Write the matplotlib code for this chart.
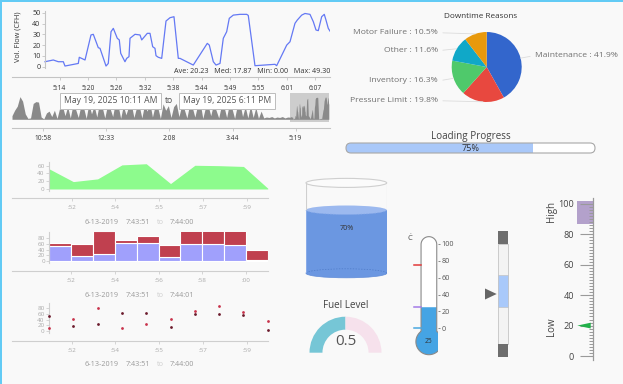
import numpy as np
import matplotlib
matplotlib.use('Agg')
import matplotlib.pyplot as plt
from matplotlib.patches import Rectangle, Ellipse, Polygon, FancyBboxPatch, PathPatch, Arc
from matplotlib.path import Path

plt.rcParams['font.family'] = ['Open Sans', 'DejaVu Sans']

# ---------------- data ----------------
# Detail flow chart: minutes after 5:00 PM, CFH
flow_t = [11.02, 12.71, 13.73, 14.76, 15.10, 17.82, 18.02, 19.19, 20.41, 20.88,
          21.90, 22.25, 23.48, 23.94, 24.50, 24.97, 25.78, 26.19, 26.48, 27.35,
          27.70, 28.17, 28.38, 29.40, 30.42, 30.77, 31.91, 32.46, 33.01, 33.48,
          33.69, 34.16, 34.85, 35.73, 36.55, 37.36, 38.24, 38.59, 41.30, 44.16,
          44.57, 45.39, 45.94, 46.76, 47.43, 48.12, 48.65, 49.47, 50.84, 52.21,
          52.53, 53.90, 57.99, 58.33, 60.38, 61.05, 62.07, 62.54, 63.44, 64.11,
          65.13, 65.81, 66.36, 66.83, 67.52, 68.05, 68.40, 68.87, 69.22]
flow_v = [4.6, 6.2, 4.6, 4.6, 0.6, 3.0, 8.7, 6.2, 29.4, 30.0,
          17.6, 17.0, 0.6, 3.0, 32.4, 35.5, 26.3, 24.8, 12.4, 4.6,
          7.7, 9.3, 26.3, 30.0, 29.4, 24.8, 30.9, 30.9, 18.5, 17.0,
          10.2, 8.7, 7.7, 42.3, 45.4, 46.3, 7.7, 7.7, 1.5, 21.6,
          20.0, 4.6, 1.5, 3.0, 26.3, 32.4, 44.8, 47.8, 48.5, 48.5,
          47.5, 0.9, 2.2, 0.9, 20.0, 23.1, 40.2, 43.2, 47.8, 49.3,
          48.5, 41.7, 34.0, 33.4, 46.3, 48.5, 43.2, 35.5, 33.0]
flow_stat_names = ['Ave', 'Med', 'Min', 'Max']
flow_stat_vals = [20.23, 17.87, 0.00, 49.30]
flow_tick_labels = ['5:14', '5:20', '5:26', '5:32', '5:38', '5:44', '5:49', '5:55', '6:01', '6:07']
flow_tick_first, flow_tick_step = 14.0, 5.8

# Overview (every 4 minutes from 10:11 AM)
overview_v = [8, 20, 29, 50, 40, 12, 2, 3, 35, 39, 38, 5, 1, 14, 18, 6, 20, 2, 25, 30,
              8, 28, 3, 32, 22, 4, 30, 26, 2, 34, 12, 30, 5, 36, 28, 3, 30, 24, 6, 38,
              32, 2, 30, 10, 28, 34, 4, 26, 30, 3, 32, 18, 36, 5, 30, 26, 2, 34, 20, 30,
              4, 28, 35, 6, 30, 22, 3, 32, 27, 5, 30, 36, 2, 26, 30, 8, 33, 20, 3, 30,
              28, 4, 34, 24, 2, 30, 36, 6, 28, 3, 30, 4, 26, 2, 18, 3, 5, 4, 6, 3,
              5, 4, 6, 3, 5]
overview_step = 4
overview_tick_labels = ['10:58', '12:33', '2:08', '3:44', '5:19']
overview_tick_min = [47, 142, 237, 333, 428]
range_from_label = 'May 19, 2025 10:11 AM'
range_to_label = 'May 19, 2025 6:11 PM'
detail_offset_min = 409  # 5:00 PM, in minutes after 10:11 AM

# Downtime pie
pie_labels = ['Maintenance', 'Pressure Limit', 'Inventory', 'Other', 'Motor Failure']
pie_vals = [41.9, 19.8, 16.3, 11.6, 10.5]
pie_colors = ['#3366cc', '#e8483f', '#4fc96b', '#10a8c8', '#e8990c']

progress_val = 75

# Small charts (seconds 7:43:51 .. 7:44:00)
sec = [51, 52, 53, 54, 55, 56, 57, 58, 59, 60]
series_a = [52, 19, 26, 62, 65, 14, 61, 60, 58, 2]
series_b = [12, 42, 80, 12, 23, 42, 71, 89, 66, 35]
area_tick_labels = [':52', ':54', ':55', ':57', ':59']
bar_tick_labels = [':52', ':54', ':56', ':58', ':00']
bar_ticks = [52, 54, 56, 58, 60]

tank_level = 70
fuel_level = 0.5
temp_c = 25
temp_marks = [75, 25, 0]
temp_mark_colors = ['#e23a3a', '#a47be8', '#49a8e0']
range_lo, range_hi, range_ptr = 37, 69, 50
lin_value = 20
lin_high = (87, 102)

# ---------------- figure ----------------
W, H = 623, 384
fig = plt.figure(figsize=(W / 100, H / 100), dpi=100)
fig.patch.set_facecolor('#f9f9f9')


def pax(x0, y0, x1, y1):
    a = fig.add_axes([x0 / W, 1 - y1 / H, (x1 - x0) / W, (y1 - y0) / H])
    a.patch.set_alpha(0)
    return a


def ftext(x, y, s, **kw):
    kw.setdefault('ha', 'center')
    kw.setdefault('va', 'center')
    return fig.text(x / W, 1 - y / H, s, **kw)


# border
fig.add_artist(Rectangle((0, 0), 2 / W, 1, transform=fig.transFigure, color='#62cbf5', lw=0))
fig.add_artist(Rectangle((0, 1 - 2 / H), 1, 2 / H, transform=fig.transFigure, color='#62cbf5', lw=0))

# ---- detail flow line chart ----
ax = pax(12, 11, 330, 68.3)
ax.plot(flow_t, flow_v, color='#6479f4', lw=0.9, solid_joinstyle='round')
ax.set_xlim(4.28, 69.22)
ax.set_ylim(-1.5, 51.6)
for s in ['top', 'right']:
    ax.spines[s].set_visible(False)
ax.spines['left'].set_position(('data', flow_t[0]))
ax.spines['bottom'].set_position(('outward', 6.6))
for s in ['left', 'bottom']:
    ax.spines[s].set_color('#c4c4c4')
    ax.spines[s].set_linewidth(0.8)
ax.set_yticks(range(0, 51, 10))
ax.set_xticks(flow_tick_first + flow_tick_step * np.arange(len(flow_tick_labels)))
ax.set_xticklabels(flow_tick_labels)
ax.tick_params(axis='y', length=2.2, width=0.6, color='#c4c4c4', labelsize=5.2, labelcolor='#333', pad=1)
ax.tick_params(axis='x', length=2.4, width=0.6, color='#c4c4c4', labelsize=4.8, labelcolor='#333', pad=3)
ftext(18.3, 36.7, 'Vol. Flow (CFH)', rotation=90, fontsize=5.3, color='#333')
ftext(330, 71.7, '   '.join(f'{n}: {v:.2f}' for n, v in zip(flow_stat_names, flow_stat_vals)),
      ha='right', fontsize=5.2, color='#333')

# ---- overview ----
ov_t = np.concatenate([np.arange(len(overview_v)) * overview_step, detail_offset_min + np.array(flow_t)])
ov_v = np.concatenate([overview_v, flow_v])
ax = pax(12, 93, 330, 119.3)
sel0 = detail_offset_min + flow_t[0]
sel1 = detail_offset_min + flow_t[-1]
ax.add_patch(Rectangle((sel0, -6), sel1 - sel0, 64, fc='#cdcdcd', ec='none', clip_on=False, zorder=0))
ax.fill_between(ov_t, ov_v, color='#8a8a8a', lw=0, zorder=1)
ax.set_xlim(0, 480)
ax.set_ylim(0, 58)
for s in ['top', 'right', 'left']:
    ax.spines[s].set_visible(False)
ax.spines['bottom'].set_position(('outward', 6.3))
ax.spines['bottom'].set_color('#c4c4c4')
ax.spines['bottom'].set_linewidth(0.8)
ax.set_yticks([])
ax.set_xticks(overview_tick_min)
ax.set_xticklabels(overview_tick_labels)
ax.tick_params(axis='x', length=2.4, width=0.6, color='#c4c4c4', labelsize=4.8, labelcolor='#333', pad=2.5)
box = dict(boxstyle='square,pad=0.42', fc='white', ec='#bdbdbd', lw=0.7)
ftext(110.5, 100.7, range_from_label, fontsize=6.2, color='#555', bbox=box)
ftext(169, 100.7, 'to', fontsize=6.2, color='#555')
ftext(227, 100.7, range_to_label, fontsize=6.2, color='#555', bbox=box)


# ---- small charts ----
def small_axes(y0, y1, xlim, ylim, yticks, spine_x, out_pt):
    a = pax(12, y0, 268, y1)
    a.set_xlim(*xlim)
    a.set_ylim(*ylim)
    for s in ['top', 'right']:
        a.spines[s].set_visible(False)
    a.spines['left'].set_position(('data', spine_x))
    a.spines['bottom'].set_position(('outward', out_pt))
    for s in ['left', 'bottom']:
        a.spines[s].set_color('#cfcfcf')
        a.spines[s].set_linewidth(0.8)
    a.set_yticks(yticks)
    a.tick_params(axis='both', length=2.2, width=0.6, color='#cfcfcf', labelsize=4.5, labelcolor='#aaa')
    a.tick_params(axis='y', pad=1)
    a.tick_params(axis='x', pad=3)
    return a


def date_row(y, end_label):
    ftext(101.7, y, '6-13-2019', fontsize=5.2, color='#999')
    ftext(137.5, y, '7:43:51', fontsize=5.2, color='#999')
    ftext(160, y, 'to', fontsize=5.2, color='#cfcfcf')
    ftext(182.2, y, end_label, fontsize=5.2, color='#999')


area_ticks = np.linspace(51.93, 59.13, len(area_tick_labels))

ax = small_axes(161.7, 190.7, (49.477, 60.01), (-4.4, 70.2), [0, 20, 40, 60], sec[0], 5.0)
ax.fill_between(sec, series_a, color='#8dfb8d', lw=0)
ax.set_xticks(area_ticks)
ax.set_xticklabels(area_tick_labels)
date_row(222.7, '7:44:00')

ax = small_axes(232.3, 263.3, (49.29, 61.01), (-8.1, 101), [0, 20, 40, 60, 80], sec[0], 5.2)
ax.bar(sec, series_a, width=1, align='edge', color='#a0a0fc', edgecolor='white', lw=0.8)
ax.bar(sec, series_b, width=1, bottom=series_a, align='edge', color='#c0404f', edgecolor='white', lw=0.8)
ax.set_xticks(bar_ticks)
ax.set_xticklabels(bar_tick_labels)
date_row(295.3, '7:44:01')

ax = small_axes(303.3, 332.7, (49.477, 60.01), (-6, 97.5), [0, 20, 40, 60, 80], sec[0], 5.8)
ax.scatter(sec, series_a, s=4, color='#6b1a2c', lw=0, clip_on=False, zorder=3)
ax.scatter(sec, series_b, s=4, color='#c8334b', lw=0, clip_on=False, zorder=3)
ax.set_xticks(area_ticks)
ax.set_xticklabels(area_tick_labels)
date_row(365, '7:44:00')

# ---- pie ----
ax = pax(451.7, 32, 521.7, 102)
wedges, _ = ax.pie(pie_vals, colors=pie_colors, startangle=90, counterclock=False, radius=1,
                   wedgeprops=dict(lw=0))
ax.set_xlim(-1, 1)
ax.set_ylim(-1, 1)
ftext(480.7, 17, 'Downtime Reasons', fontsize=5.9, color='#333')
label_pos = {'Maintenance': (535, 55.5, 'left'), 'Pressure Limit': (438, 100.7, 'right'),
             'Inventory': (438, 81, 'right'), 'Other': (438, 50.7, 'right'),
             'Motor Failure': (438, 32.7, 'right')}
for w, lab, val in zip(wedges, pie_labels, pie_vals):
    mid = np.deg2rad((w.theta1 + w.theta2) / 2)
    lx, ly, ha = label_pos[lab]
    ax.annotate(f'{lab} : {val}%', xy=(np.cos(mid), np.sin(mid)), xycoords='data',
                xytext=(lx / W, 1 - ly / H), textcoords='figure fraction', ha=ha, va='center',
                fontsize=6.1, color='#707070', annotation_clip=False,
                arrowprops=dict(arrowstyle='-', color='#dcdcdc', lw=0.6, shrinkA=1.5, shrinkB=0,
                                relpos=(1, 0.5) if ha == 'right' else (0, 0.5)))

# ---- progress bar ----
ftext(470.7, 136.7, 'Loading Progress', fontsize=7.1, color='#444')
ax = pax(346, 143, 595, 153)
ax.set_xlim(0, 100)
ax.set_ylim(0, 1)
ax.axis('off')
asp = (1 / 10) / (100 / 249)
bg = FancyBboxPatch((0, 0), 100, 1, boxstyle='round,pad=0,rounding_size=2.0', mutation_aspect=asp,
                    fc='white', ec='none', transform=ax.transData, clip_on=False)
ax.add_patch(bg)
bars = ax.barh(0.5, progress_val, height=1, left=0, color='#a9c8f9', lw=0)
for b in bars:
    b.set_clip_path(bg)
ax.add_patch(FancyBboxPatch((0, 0), 100, 1, boxstyle='round,pad=0,rounding_size=2.0', mutation_aspect=asp,
                            fc='none', ec='#a8a8a8', lw=0.8, clip_on=False))
ax.text(50, 0.45, f'{progress_val}%', ha='center', va='center', fontsize=6.6, color='#333')

# ---- tank ----
ax = pax(306, 182.9, 386.7, 273.3)
ax.set_xlim(0, 1)
ax.set_ylim(0, 100)
ax.axis('off')
eh = 10.0
liq = '#6b97e1'
ax.add_patch(Ellipse((0.5, 0), 1, eh, fc=liq, ec='#5f8bd8', lw=0.5, clip_on=False))
ax.bar(0.5, tank_level, width=1, color=liq, lw=0)
ax.add_patch(Arc((0.5, 0), 1, eh, theta1=0, theta2=180, color='#4f7bc8', lw=0.5, ls=(0, (2, 2)), clip_on=False))
ax.add_patch(Ellipse((0.5, tank_level), 1, eh, fc='#9cb9ef', ec='none', clip_on=False))
ax.add_patch(Arc((0.5, tank_level), 1, eh, theta1=180, theta2=360, color='#86a8e8', lw=0.5, ls=(0, (2, 2)), clip_on=False))
ax.plot([0, 0], [tank_level, 100], color='#cfcfcf', lw=0.8)
ax.plot([1, 1], [tank_level, 100], color='#cfcfcf', lw=0.8)
ax.plot([0, 0], [0, tank_level], color='#8fb0ea', lw=0.6)
ax.plot([1, 1], [0, tank_level], color='#8fb0ea', lw=0.6)
ax.add_patch(Ellipse((0.5, 100), 1, eh, fc='#fbfbfb', ec='#cfcfcf', lw=0.8, clip_on=False))
ax.text(0.5, tank_level - 20, f'{tank_level}%', ha='center', va='center', fontsize=5.2, color='#333')

# ---- fuel gauge ----
ftext(345.5, 305, 'Fuel Level', fontsize=7.1, color='#444')
ax = pax(309.5, 316.7, 381.5, 388.7)
ax.pie([fuel_level, 1 - fuel_level, 1], colors=['#76c6d6', '#f6e1ec', 'none'], startangle=180,
       counterclock=False, radius=1, wedgeprops=dict(width=0.36, lw=0))
ax.set_xlim(-1, 1)
ax.set_ylim(-1, 1)
ax.text(0, 0.31, f'{fuel_level}', ha='center', va='center', fontsize=11, color='#555')

# ---- thermometer ----
k = 1 / 0.843
ax = pax(400, 230, 437.5, 360)
ax.set_xlim(0, 37.5)
ax.set_ylim(-37.6, 116.6)
xc, rt, R = 28.9, 7.85, 13.0
ycap, yb = 99.4, -15.9
th = np.arcsin(rt / R)
yj = yb + R * np.cos(th) * k


def therm_path(top, cap):
    pts = [(xc - rt, yj), (xc - rt, top)]
    if cap:
        a = np.linspace(np.pi, 0, 30)
        pts += list(zip(xc + rt * np.cos(a), top + rt * np.sin(a) * k))
    pts += [(xc + rt, top), (xc + rt, yj)]
    a = np.linspace(np.pi / 2 - th, np.pi / 2 + th - 2 * np.pi, 60)
    pts += list(zip(xc + R * np.cos(a), yb + R * np.sin(a) * k))
    pts.append(pts[0])
    return Path(pts)


ax.add_patch(PathPatch(therm_path(ycap, True), fc='white', ec='none'))
ax.add_patch(PathPatch(therm_path(temp_c, False), fc='#45a4e4', ec='none'))
ax.add_patch(PathPatch(therm_path(ycap, True), fc='none', ec='#8a8a8a', lw=0.8))
for m, c in zip(temp_marks, temp_mark_colors):
    ax.plot([14, 20.7], [m, m], color=c, lw=1.1)
ax.text(xc, yb, f'{temp_c}', ha='center', va='center', fontsize=4.8, color='#333')
for s in ax.spines.values():
    s.set_visible(False)
ax.set_xticks([])
ax.yaxis.tick_right()
ax.set_yticks(range(0, 101, 20))
ax.tick_params(axis='y', length=1.5, width=0.6, color='#777', labelsize=5.2, labelcolor='#555', pad=1.5)
ftext(410, 239, 'Ċ', fontsize=5.5, color='#444')

# ---- range indicator ----
ax = pax(480, 230.7, 510, 356.7)
ax.set_xlim(0, 30)
ax.set_ylim(-12.7, 113.3)
ax.axis('off')
ax.add_patch(Rectangle((18.3, 0), 10, 100, fc='#f3f3f3', ec='#c4c4c4', lw=0.6))
ax.bar(23.3, 13.3, width=10, bottom=100, color='#6e6e6e', lw=0)
ax.bar(23.3, 12.7, width=10, bottom=-12.7, color='#6e6e6e', lw=0)
ax.bar(23.3, range_hi - range_lo, width=10, bottom=range_lo, color='#a9c9fa', edgecolor='#c4c4c4', lw=0.5)
ax.add_patch(Polygon([(5, range_ptr + 5.5), (16.7, range_ptr), (5, range_ptr - 5.5)], closed=True,
                     fc='#666', ec='none'))

# ---- linear gauge ----
ax = pax(577.3, 198, 592.7, 360)
ax.set_xlim(0, 1)
ax.set_ylim(-2.63, 103.9)
for s in ['top', 'bottom', 'left']:
    ax.spines[s].set_visible(False)
ax.spines['right'].set_color('#9a9a9a')
ax.spines['right'].set_linewidth(0.9)
ax.axhspan(lin_high[0], lin_high[1], xmin=0, xmax=1, color='#b3a1cb', lw=0, zorder=0.5)
ax.set_xticks([])
ax.set_yticks(range(0, 101, 20))
ax.set_yticks(range(0, 101, 2), minor=True)
ax.tick_params(axis='y', which='major', left=False, right=True, labelleft=True, labelright=False,
               direction='in', length=9.1, width=0.8, color='#9a9a9a', labelsize=6.6, labelcolor='#444', pad=2.2)
ax.tick_params(axis='y', which='minor', left=False, right=True, direction='in', length=2.6, width=0.7,
               color='#9a9a9a')
ax.add_patch(Polygon([(0, lin_value), (0.87, lin_value + 1.9), (0.87, lin_value - 1.9)], closed=True,
                     fc='#22b04a', ec='none', zorder=3, clip_on=False))
ftext(551.7, 211.7, 'High', rotation=90, fontsize=7, color='#444')
ftext(551.7, 326.7, 'Low', rotation=90, fontsize=7, color='#444')

fig.savefig('out.png', dpi=100, facecolor=fig.get_facecolor())
